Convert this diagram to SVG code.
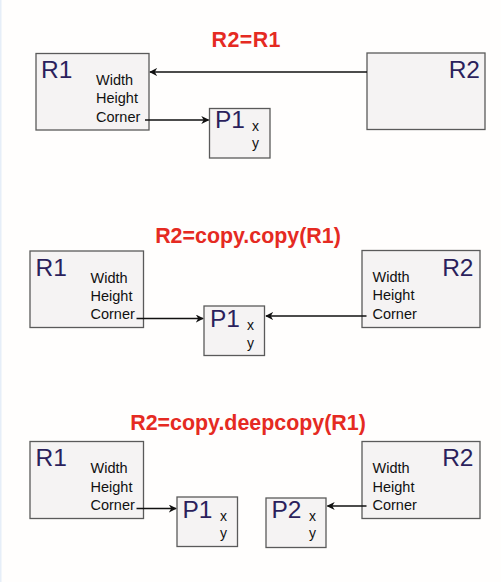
<svg xmlns="http://www.w3.org/2000/svg" width="501" height="582" viewBox="0 0 501 582">
<style>
.box{fill:#f5f3f3;stroke:#5a5a5a;stroke-width:1.3}
.big{font-family:"Liberation Sans",Arial,sans-serif;font-size:24.5px;fill:#2b1f5c}
.attr{font-family:"Liberation Sans",Arial,sans-serif;font-size:14.5px;fill:#111}
.xy{font-family:"Liberation Sans",Arial,sans-serif;font-size:14px;fill:#111}
.title{font-family:"Liberation Sans",Arial,sans-serif;font-size:21.4px;font-weight:bold;fill:#e52a22;text-anchor:middle}
.con{stroke:#111;stroke-width:1.5;fill:none;marker-end:url(#ah)}
</style>
<defs>
<marker id="ah" viewBox="0 0 10 10" refX="9" refY="5" markerWidth="8" markerHeight="8" markerUnits="userSpaceOnUse" orient="auto">
<path d="M0,0 L10,5 L0,10 L3,5 Z" fill="#111"/>
</marker>
</defs>
<rect x="0" y="0" width="501" height="582" fill="#fffefd"/>
<rect x="0" y="0" width="1.5" height="582" fill="#e6eef8"/>

<text class="title" x="246" y="47" textLength="69" lengthAdjust="spacing">R2=R1</text>
<text class="title" x="248" y="243">R2=copy.copy(R1)</text>
<text class="title" x="248" y="429.5">R2=copy.deepcopy(R1)</text>

<g id="s1-R1">
<rect class="box" x="36" y="53.5" width="113" height="76.5"/>
<text class="big" x="41" y="78">R1</text>
<text class="attr" x="96" y="85">Width</text>
<text class="attr" x="96" y="103.3">Height</text>
<text class="attr" x="96" y="121.7">Corner</text>
</g>
<g id="s1-R2">
<rect class="box" x="367" y="53" width="118" height="76.5"/>
<text class="big" x="480" y="78" text-anchor="end">R2</text>
</g>
<g id="s1-P1">
<rect class="box" x="209.5" y="108.5" width="60.5" height="49.5"/>
<text class="big" x="215" y="128">P1</text>
<text class="xy" x="252" y="131">x</text>
<text class="xy" x="252" y="148">y</text>
</g>

<g id="s2-R1">
<rect class="box" x="30" y="251" width="113.5" height="76.5"/>
<text class="big" x="35.5" y="276">R1</text>
<text class="attr" x="90.5" y="282.7">Width</text>
<text class="attr" x="90.5" y="300.7">Height</text>
<text class="attr" x="90.5" y="319.3">Corner</text>
</g>
<g id="s2-R2">
<rect class="box" x="362" y="250.5" width="118" height="77"/>
<text class="big" x="473.5" y="275.5" text-anchor="end">R2</text>
<text class="attr" x="372.5" y="282.3">Width</text>
<text class="attr" x="372.5" y="300.3">Height</text>
<text class="attr" x="372.5" y="318.7">Corner</text>
</g>
<g id="s2-P1">
<rect class="box" x="204" y="306" width="60.5" height="49.5"/>
<text class="big" x="210" y="327">P1</text>
<text class="xy" x="247" y="330">x</text>
<text class="xy" x="247" y="347.5">y</text>
</g>

<g id="s3-R1">
<rect class="box" x="30" y="441.5" width="113.5" height="77"/>
<text class="big" x="35.5" y="466">R1</text>
<text class="attr" x="90.5" y="473.3">Width</text>
<text class="attr" x="90.5" y="491.7">Height</text>
<text class="attr" x="90.5" y="510">Corner</text>
</g>
<g id="s3-R2">
<rect class="box" x="362" y="441.5" width="118" height="77"/>
<text class="big" x="473.5" y="466" text-anchor="end">R2</text>
<text class="attr" x="372.5" y="473.3">Width</text>
<text class="attr" x="372.5" y="491.7">Height</text>
<text class="attr" x="372.5" y="510">Corner</text>
</g>
<g id="s3-P1">
<rect class="box" x="177" y="497" width="60.5" height="49.5"/>
<text class="big" x="182.5" y="518">P1</text>
<text class="xy" x="220" y="520.5">x</text>
<text class="xy" x="220" y="538">y</text>
</g>
<g id="s3-P2">
<rect class="box" x="266" y="498" width="60" height="49.5"/>
<text class="big" x="271.5" y="518">P2</text>
<text class="xy" x="309" y="520.5">x</text>
<text class="xy" x="309" y="538">y</text>
</g>

<g id="connectors">
<line class="con" x1="367" y1="72" x2="150" y2="72"/>
<line class="con" x1="145" y1="120" x2="208.5" y2="120"/>
<line class="con" x1="136.5" y1="318.5" x2="203" y2="318.5"/>
<line class="con" x1="366.5" y1="316" x2="266" y2="316"/>
<line class="con" x1="136.5" y1="508.5" x2="176" y2="508.5"/>
<line class="con" x1="366.5" y1="506" x2="327.5" y2="506"/>
</g>
</svg>
